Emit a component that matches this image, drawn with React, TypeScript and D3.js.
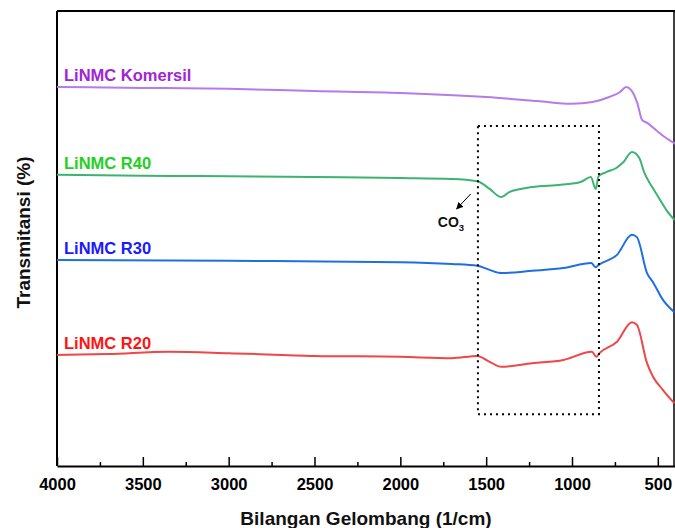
import React, { useEffect, useRef } from "react";
import * as d3 from "d3";

// wavenumber (1/cm) and transmittance (offset, arbitrary units)
const komersilWn = [4000, 3500, 3000, 2500, 2000, 1500, 1200, 1000, 880, 783, 720, 684, 655, 620, 591, 562, 510, 460, 416, 400];
const komersilT = [83.3, 83.1, 82.9, 82.4, 82.0, 81.1, 80.2, 79.6, 80.0, 81.1, 82.2, 83.3, 82.6, 79.8, 76.0, 75.4, 73.8, 72.3, 71.2, 70.8];

const r40Wn = [4000, 3500, 3000, 2500, 2000, 1700, 1552, 1480, 1412, 1366, 1232, 1065, 950, 890, 862, 845, 800, 742, 700, 651, 608, 580, 533, 500, 451, 404];
const r40T = [64.0, 63.8, 63.7, 63.5, 63.3, 63.1, 62.6, 60.9, 59.1, 60.2, 61.3, 61.8, 62.4, 63.5, 60.9, 63.7, 64.6, 65.5, 66.8, 69.0, 67.7, 64.6, 61.3, 59.3, 56.3, 54.1];

const r30Wn = [4000, 3000, 2000, 1700, 1552, 1480, 1412, 1232, 1050, 888, 862, 845, 738, 651, 622, 563, 528, 470, 404];
const r30T = [45.3, 45.1, 44.8, 44.4, 44.0, 43.1, 42.4, 42.9, 43.5, 44.6, 43.7, 44.2, 46.4, 50.8, 50.3, 42.4, 40.4, 36.5, 33.8];

const r20Wn = [4000, 3700, 3350, 3000, 2500, 2000, 1700, 1552, 1480, 1412, 1232, 1050, 884, 858, 840, 738, 651, 622, 563, 528, 470, 404];
const r20T = [24.4, 24.6, 25.1, 24.8, 24.2, 24.0, 23.7, 24.2, 22.9, 21.8, 22.6, 23.3, 25.1, 24.0, 24.8, 27.3, 31.6, 31.0, 22.6, 19.6, 16.7, 13.8];

const seriesNames = ["LiNMC Komersil", "LiNMC R40", "LiNMC R30", "LiNMC R20"];
const lineColors = ["#b57be8", "#3cb371", "#1f6fe0", "#f04646"];
const labelColors = ["#a224d6", "#22d022", "#1a1aff", "#ff1414"];

const majorTicks = [4000, 3500, 3000, 2500, 2000, 1500, 1000, 500];
const minorTicks = [3750, 3250, 2750, 2250, 1750, 1250, 750];

// CO3 region box (1/cm, transmittance)
const boxWn = [1548, 843];
const boxT = [74.7, 11.4];

const width = 675;
const height = 528;
const margin = { top: 11, right: 0, bottom: 62, left: 57 };
const font = "Liberation Sans, Arial, sans-serif";

const App = () => {
  const axisRef = useRef<SVGGElement>(null);

  const x = d3.scaleLinear().domain([4000, 400]).range([margin.left, width - margin.right]);
  const y = d3.scaleLinear().domain([0, 100]).range([height - margin.bottom, margin.top]);

  const series = [
    komersilWn.map((w, i) => ({ w, t: komersilT[i] })),
    r40Wn.map((w, i) => ({ w, t: r40T[i] })),
    r30Wn.map((w, i) => ({ w, t: r30T[i] })),
    r20Wn.map((w, i) => ({ w, t: r20T[i] })),
  ];

  const line = d3
    .line<{ w: number; t: number }>()
    .x((d) => x(d.w))
    .y((d) => y(d.t))
    .curve(d3.curveMonotoneX);

  useEffect(() => {
    const g = d3.select(axisRef.current);
    g.selectAll("*").remove();

    // minor ticks
    g.append("g")
      .call(d3.axisBottom(x).tickValues(minorTicks).tickSizeInner(-4).tickSizeOuter(0).tickFormat(() => ""))
      .call((s) => s.select(".domain").remove())
      .selectAll("line")
      .attr("stroke", "#000")
      .attr("stroke-width", 1.5);

    // major ticks and labels
    const major = g
      .append("g")
      .call(d3.axisBottom(x).tickValues(majorTicks).tickSizeInner(-9).tickSizeOuter(0).tickPadding(12).tickFormat(d3.format("d")));
    major.select(".domain").attr("stroke-width", 2);
    major.selectAll("line").attr("stroke-width", 1.5);
    major
      .selectAll("text")
      .attr("font-family", font)
      .attr("font-weight", "bold")
      .attr("font-size", 16.5)
      .attr("fill", "#000");
  }, []);

  const x0 = x(4000);
  const x1 = x(400);
  const yTop = y(100);
  const yBot = y(0);

  return (
    <svg width={width} height={height} style={{ position: "absolute", left: 0, top: 0, background: "#fff" }}>
      {/* frame */}
      <line x1={x0} x2={x1} y1={yTop} y2={yTop} stroke="#000" strokeWidth={2} />
      <line x1={x0} x2={x0} y1={yTop} y2={yBot} stroke="#000" strokeWidth={2} />
      <line x1={x1 - 1} x2={x1 - 1} y1={yTop} y2={yBot} stroke="#000" strokeWidth={1.5} />

      {/* spectra */}
      {series.map((s, i) => (
        <path key={i} d={line(s) || ""} fill="none" stroke={lineColors[i]} strokeWidth={2} strokeLinejoin="round" />
      ))}

      {/* labels */}
      {series.map((s, i) => (
        <text key={"l" + i} x={x0 + 7} y={y(s[0].t) - 6} fill={labelColors[i]} fontFamily={font} fontWeight="bold" fontSize={16.5}>
          {seriesNames[i]}
        </text>
      ))}

      {/* CO3 box */}
      <rect
        x={x(boxWn[0])}
        y={y(boxT[0])}
        width={x(boxWn[1]) - x(boxWn[0])}
        height={y(boxT[1]) - y(boxT[0])}
        fill="none"
        stroke="#000"
        strokeWidth={2}
        strokeDasharray="2,4"
      />

      {/* CO3 annotation */}
      <defs>
        <marker id="arr" viewBox="0 0 10 10" refX="9" refY="5" markerWidth="7" markerHeight="7" orient="auto">
          <path d="M0,0 L10,5 L0,10 z" fill="#000" />
        </marker>
      </defs>
      <line x1={x(1590)} y1={y(59.8)} x2={x(1672)} y2={y(56.5)} stroke="#000" strokeWidth={1} markerEnd="url(#arr)" />
      <text x={x(1705)} y={y(52.5)} textAnchor="middle" fontFamily={font} fontWeight="bold" fontSize={14} fill="#111">
        CO<tspan fontSize={9.5} dy={4}>3</tspan>
      </text>

      {/* x axis */}
      <g ref={axisRef} transform={`translate(0,${yBot})`} />

      {/* axis titles */}
      <text x={366} y={525} textAnchor="middle" fontFamily={font} fontWeight="bold" fontSize={19} fill="#111">
        Bilangan Gelombang (1/cm)
      </text>
      <text
        transform={`translate(30,${(yTop + yBot) / 2 - 6}) rotate(-90)`}
        textAnchor="middle"
        fontFamily={font}
        fontWeight="bold"
        fontSize={19}
        fill="#111"
      >
        Transmitansi (%)
      </text>
    </svg>
  );
};

export default App;
